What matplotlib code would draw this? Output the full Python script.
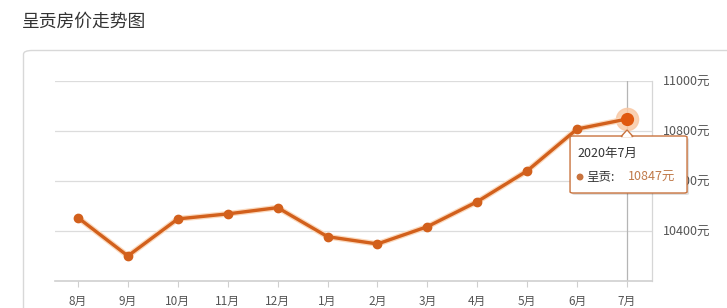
import matplotlib.pyplot as plt
from matplotlib.patches import FancyBboxPatch, Polygon, Ellipse
import matplotlib.patheffects as pe

plt.rcParams['font.family'] = ['Noto Sans CJK SC', 'DejaVu Sans']

# data
months = ["8月", "9月", "10月", "11月", "12月", "1月", "2月",
          "3月", "4月", "5月", "6月", "7月"]
prices = [10453, 10300, 10448, 10468, 10493, 10377, 10348,
          10417, 10517, 10640, 10807, 10847]
y_ticks = [10400, 10600, 10800, 11000]
title = "呈贡房价走势图"
tip_date = "2020年7月"
tip_name = "呈贡"

W, H = 727, 308
LINE = "#d2601c"
GRID = "#dcdcdc"


def px(x0, y0, x1, y1):
    """pixel box (top-left origin) -> figure fraction rect"""
    return [x0 / W, (H - y1) / H, (x1 - x0) / W, (y1 - y0) / H]


def fp(xp, yp):
    return (xp / W, (H - yp) / H)


fig = plt.figure(figsize=(W / 100, H / 100), dpi=100)

# outer panel with rounded corner
panel = FancyBboxPatch((23.5 / W, -0.2), 1.2, (H - 50.5) / H + 0.2,
                       boxstyle="round,pad=0,rounding_size=0.012",
                       transform=fig.transFigure, facecolor="white",
                       edgecolor="#d8d8d8", linewidth=1.0, zorder=-5)
fig.patches.append(panel)

fig.text(22 / W, 1 - 22 / H, title, fontsize=12.8, color="#333333",
         ha="left", va="center")

ax = fig.add_axes(px(55, 80.7, 652, 281))
ax.set_facecolor("none")
x = list(range(len(months)))
ax.set_xlim(-0.46, 11.5)
ax.set_ylim(10200, 11000)

for s in ["top", "left"]:
    ax.spines[s].set_visible(False)
ax.spines["bottom"].set_color("#cfcfcf")
ax.spines["right"].set_color("#d6d6d6")
ax.spines["bottom"].set_linewidth(1.2)
ax.spines["right"].set_linewidth(0.9)

for v in y_ticks:
    ax.axhline(v, color=GRID, linewidth=0.9, zorder=1)

# crosshair at last point
ax.axvline(x[-1], color="#b5b5b5", linewidth=0.9, zorder=1)

ax.yaxis.tick_right()
ax.set_yticks(y_ticks)
ax.set_yticklabels([f"{v}元" for v in y_ticks])
ax.tick_params(axis="y", length=0, pad=8, labelsize=9, labelcolor="#555555")
ax.set_xticks(x)
ax.set_xticklabels(months)
ax.tick_params(axis="x", length=4, color="#cfcfcf", pad=6, labelsize=8.5,
               labelcolor="#555555")

glow = [pe.Stroke(linewidth=4.2, foreground="#fbd9bd"), pe.Normal()]
ax.plot(x, prices, color=LINE, linewidth=2.4, zorder=3,
        path_effects=glow, clip_on=False)
ax.plot(x, prices, "o", markersize=6, color=LINE, zorder=3, clip_on=False)
ax.plot(x[-1], prices[-1], "o", markersize=16, color="#f9c9a6", alpha=0.85,
        zorder=2, clip_on=False)
ax.plot(x[-1], prices[-1], "o", markersize=8.5, color="#e0580f", zorder=4,
        clip_on=False)

# tooltip anchored under the last point
fig.canvas.draw()
tx, ty = ax.transData.transform((x[-1], prices[-1]))
ty = H - ty  # to top-origin pixels

bx0, bx1 = tx - 57, tx + 60
by0, by1 = ty + 17, ty + 74
shadow = FancyBboxPatch(fp(bx0 + 2, by1 + 2), (bx1 - bx0) / W,
                        (by1 - by0) / H,
                        boxstyle="round,pad=0,rounding_size=0.004",
                        transform=fig.transFigure, facecolor="#000000",
                        alpha=0.12, edgecolor="none", zorder=10)
box = FancyBboxPatch(fp(bx0, by1), (bx1 - bx0) / W, (by1 - by0) / H,
                     boxstyle="round,pad=0,rounding_size=0.004",
                     transform=fig.transFigure, facecolor="white",
                     edgecolor="#c9733e", linewidth=1.0, zorder=11)
fig.add_artist(shadow)
fig.add_artist(box)
tri = Polygon([fp(tx - 6, by0 + 0.5), fp(tx, by0 - 6), fp(tx + 6, by0 + 0.5)],
              closed=True, transform=fig.transFigure, facecolor="white",
              edgecolor="#c9733e", linewidth=1.0, zorder=12)
fig.add_artist(tri)
cover = Polygon([fp(tx - 5, by0 + 1.2), fp(tx, by0 - 4.5), fp(tx + 5, by0 + 1.2)],
                closed=True, transform=fig.transFigure, facecolor="white",
                edgecolor="none", zorder=13)
fig.add_artist(cover)

fig.text(*fp(bx0 + 7, by0 + 17), tip_date, fontsize=9, color="#333333",
         ha="left", va="center", zorder=14)
fig.add_artist(Ellipse(fp(bx0 + 10, by0 + 41), 5.5 / W, 5.5 / H,
                       transform=fig.transFigure, color="#c9733e", zorder=14))
fig.text(*fp(bx0 + 16, by0 + 41), f"{tip_name}:", fontsize=9,
         color="#333333", ha="left", va="center", zorder=14)
fig.text(*fp(bx0 + 58, by0 + 41), f"{prices[-1]}元", fontsize=9,
         color="#c07a4a", ha="left", va="center", zorder=14)

fig.savefig("out.png", dpi=100)
